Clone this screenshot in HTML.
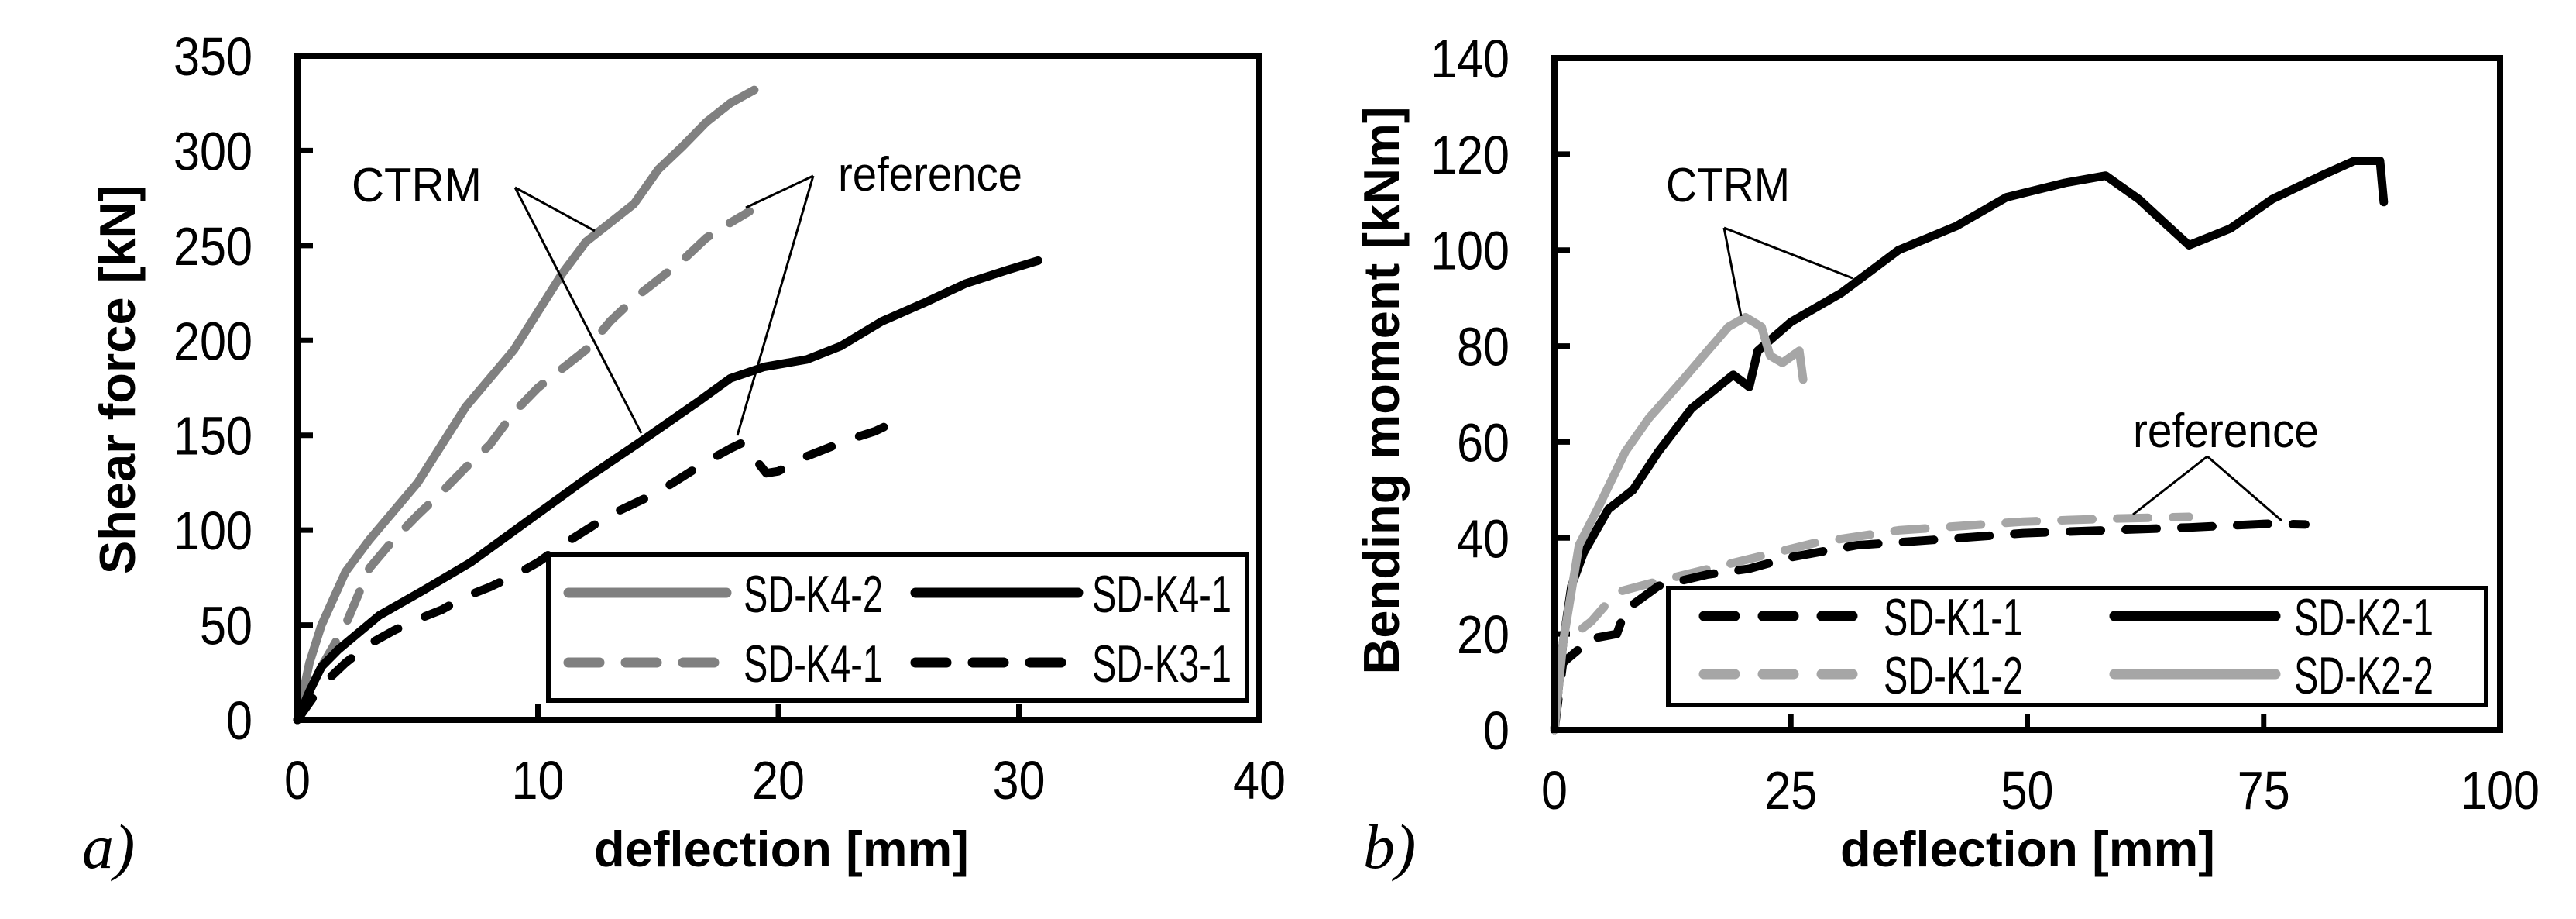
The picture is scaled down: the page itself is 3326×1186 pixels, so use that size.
<!DOCTYPE html>
<html><head><meta charset="utf-8"><style>
html,body{margin:0;padding:0;background:#fff;}
svg{display:block;}
text{font-family:"Liberation Sans",sans-serif;fill:#000;}
</style></head><body>
<svg id="fig" width="3326" height="1186" viewBox="0 0 3326 1186" xmlns="http://www.w3.org/2000/svg">
<rect width="3326" height="1186" fill="#fff"/>
<g id="chartA"></g>
<g id="chartB"></g>
</svg>
<script>
// ---------- Chart A data ----------
const aXTicks = [0, 10, 20, 30, 40];
const aYTicks = [0, 50, 100, 150, 200, 250, 300, 350];
const aK42x = [0,0.5,1,2,3,4,5,6,7,8,9,10,11,12,13,14,15,16,17,18,19];
const aK42y = [0,30,50,78,95,110,125,145,165,180,195,215,235,252,262,272,290,302,315,325,332];
const aK41rx = [0,1,2,3,4,5,6,7,8,9,10,11,12,13,14,15,16,17,18,18.8];
const aK41ry = [0,28,50,80,95,108,120,133,145,162,175,185,195,210,222,232,242,254,262,268];
const aK41x = [0,0.5,1,1.7,3.4,5.2,7.2,9.7,12.1,14.2,16.7,18,19.4,21.2,22.6,24.3,26.1,27.8,29.5,30.8];
const aK41y = [0,15,28,37,55,68,83,106,128,146,168,180,186,190,197,210,220,230,237,242];
const aK31x = [0,1,2,3,4,5,6,7,8,9,10,11,12,13,14,15,16,17,18,18.5,19.5,20,21,22,23,24,24.5];
const aK31y = [0,18,30,40,47,53,58,65,70,76,83,92,100,108,114,120,128,136,143,146,130,131,138,143,148,152,155];
// ---------- Chart B data ----------
const bXTicks = [0, 25, 50, 75, 100];
const bYTicks = [0, 20, 40, 60, 80, 100, 120, 140];
const bK21x = [0,0.9,1.8,3.1,5.7,8.3,11,14.5,18.9,20.6,21.5,25,30.3,36.4,42.5,47.8,54,58.3,61.8,64.5,67.1,71.5,75.9,81.1,84.6,87.3,87.7];
const bK21y = [0,18,30,37,46,50,58,67,74,71.5,79,85,91,100,105,111,114,115.5,110.6,105.7,101,104.5,110.6,115.5,118.6,118.6,110];
const bK22x = [0,0.9,2.6,4.8,7.5,10,13.6,16.2,18.4,20.2,21.9,22.8,24.1,25.9,26.3];
const bK22y = [0,18,38.5,47,58,65,73,79,84,86,84,78,76.5,79,73];
const bK11x = [0,0.9,3.9,6.6,7.5,11,16.2,20.6,25,32,40.8,49.6,58.3,67.1,75.9,79.4];
const bK11y = [0,14,19,20,25,30,32.4,33.6,36,38.5,39.7,41,41.6,42.2,43,42.8];
const bK12x = [0,0.9,3.9,6.6,11,18.9,27.6,36.4,49.6,58.3,67.1];
const bK12y = [0,18,22.6,28.7,31,34.8,39,41.6,43.4,44,44.4];

const NS = "http://www.w3.org/2000/svg";
function mk(parent, tag, attrs, txt){
  const e = document.createElementNS(NS, tag);
  for (const k in attrs) e.setAttribute(k, attrs[k]);
  if (txt !== undefined) e.textContent = txt;
  parent.appendChild(e);
  return e;
}

function drawChart(g, cfg){
  const sx = v => cfg.x0 + (v - cfg.xmin) / (cfg.xmax - cfg.xmin) * (cfg.x1 - cfg.x0);
  const sy = v => cfg.y0 - (v - cfg.ymin) / (cfg.ymax - cfg.ymin) * (cfg.y0 - cfg.y1);
  cfg.yTicks.forEach(t => {
    const l = mk(g, 'line', {x1: cfg.x0, x2: cfg.x0 + 20, y1: sy(t), y2: sy(t), stroke: '#000', 'stroke-width': 7});
    
    
    const s = String(t);
    const tx = mk(g, 'text', {x: cfg.x0 - 58, y: sy(t) + 25, 'text-anchor': 'end', 'font-size': 70, textLength: s.length * 34, lengthAdjust: 'spacingAndGlyphs'}, s);
    
    
  });
  cfg.xTicks.forEach(t => {
    const l = mk(g, 'line', {x1: sx(t), x2: sx(t), y1: cfg.y0, y2: cfg.y0 - 20, stroke: '#000', 'stroke-width': 7});
    
    
    const s = String(t);
    const tx = mk(g, 'text', {x: sx(t), y: cfg.y0 + 102, 'text-anchor': 'middle', 'font-size': 70, textLength: s.length * 34, lengthAdjust: 'spacingAndGlyphs'}, s);
    
    
  });
  cfg.series.forEach(s => {
    const pts = s.x.map((v, i) => sx(v).toFixed(1) + ',' + sy(s.y[i]).toFixed(1)).join(' ');
    const attrs = {points: pts, fill: 'none', stroke: s.color, 'stroke-width': s.w || 11, 'stroke-linejoin': 'round', 'stroke-linecap': 'round'};
    if (s.dash) attrs['stroke-dasharray'] = s.dash;
    const p = mk(g, 'polyline', attrs);
    
    
  });
  const fr = mk(g, 'rect', {x: cfg.x0, y: cfg.y1, width: cfg.x1 - cfg.x0, height: cfg.y0 - cfg.y1, fill: 'none', stroke: '#000', 'stroke-width': 8});
  
  
  return {sx, sy};
}

function legend(g, box, items){
  const lg = mk(g, 'g', {});
  
  
  mk(lg, 'rect', {x: box.x, y: box.y, width: box.w, height: box.h, fill: '#fff', stroke: '#000', 'stroke-width': 6});
  items.forEach(it => {
    const e = mk(lg, 'g', {});
    
    
    const a = {x1: it.lx1, x2: it.lx2, y1: it.y, y2: it.y, stroke: it.color, 'stroke-width': 13, 'stroke-linecap': 'round'};
    if (it.dash) a['stroke-dasharray'] = it.dash;
    mk(e, 'line', a);
    mk(e, 'text', {x: it.tx, y: it.y + 25, 'font-size': 68, textLength: 180, lengthAdjust: 'spacingAndGlyphs'}, it.label);
  });
}

function label(g, attrs, txt, name){
  const t = mk(g, 'text', attrs, txt);
  
  
  return t;
}
function lines(g, segs, name){
  const gg = mk(g, 'g', {});
  
  
  segs.forEach(s => mk(gg, 'line', {x1: s[0], y1: s[1], x2: s[2], y2: s[3], stroke: '#000', 'stroke-width': 3}));
}

// ---------- Chart A ----------
const gA = document.getElementById('chartA');
drawChart(gA, {
  x0: 384, x1: 1626, y0: 929, y1: 72, xmin: 0, xmax: 40, ymin: 0, ymax: 350,
  xTicks: aXTicks, yTicks: aYTicks,
  series: [
    {name: 'series-sd-k4-2', x: aK42x, y: aK42y, color: '#808080'},
    {name: 'series-sd-k4-1-reference', x: aK41rx, y: aK41ry, color: '#808080', dash: '40 32'},
    {name: 'series-sd-k3-1', x: aK31x, y: aK31y, color: '#000', dash: '34 38'},
    {name: 'series-sd-k4-1', x: aK41x, y: aK41y, color: '#000'}
  ]
});
legend(gA, {x: 708, y: 716, w: 902, h: 188}, [
  {lx1: 734, lx2: 938, y: 765, color: '#808080', tx: 960, label: 'SD-K4-2'},
  {lx1: 1182, lx2: 1392, y: 765, color: '#000', tx: 1410, label: 'SD-K4-1'},
  {lx1: 734, lx2: 938, y: 855, color: '#808080', dash: '40 34', tx: 960, label: 'SD-K4-1'},
  {lx1: 1182, lx2: 1392, y: 855, color: '#000', dash: '40 34', tx: 1410, label: 'SD-K3-1'}
]);
label(gA, {x: 454, y: 260, 'font-size': 62, textLength: 168, lengthAdjust: 'spacingAndGlyphs'}, 'CTRM', 'ctrm-annotation');
label(gA, {x: 1082, y: 246, 'font-size': 62, textLength: 238, lengthAdjust: 'spacingAndGlyphs'}, 'reference', 'reference-annotation');
lines(gA, [[665,242,768,298],[665,242,828,559]], 'ctrm-leader-lines');
lines(gA, [[1050,227,963,268],[1050,227,952,562]], 'reference-leader-lines');
label(gA, {x: 151, y: 490, 'font-size': 65, 'font-weight': 'bold', 'text-anchor': 'middle', transform: 'rotate(-90 151 490) translate(0 23)'}, 'Shear force [kN]', 'y-axis-title');
label(gA, {x: 1009, y: 1118, 'font-size': 65, 'font-weight': 'bold', 'text-anchor': 'middle'}, 'deflection [mm]', 'x-axis-title');
label(gA, {x: 106, y: 1120, 'font-size': 82, 'font-style': 'italic', style: 'font-family:"Liberation Serif",serif'}, 'a)', 'panel-label-a');

// ---------- Chart B ----------
const gB = document.getElementById('chartB');
drawChart(gB, {
  x0: 2007, x1: 3228, y0: 942, y1: 75, xmin: 0, xmax: 100, ymin: 0, ymax: 140,
  xTicks: bXTicks, yTicks: bYTicks,
  series: [
    {name: 'series-sd-k1-2', x: bK12x, y: bK12y, color: '#a6a6a6', dash: '40 32'},
    {name: 'series-sd-k1-1', x: bK11x, y: bK11y, color: '#000', dash: '40 32'},
    {name: 'series-sd-k2-1', x: bK21x, y: bK21y, color: '#000'},
    {name: 'series-sd-k2-2', x: bK22x, y: bK22y, color: '#a6a6a6'}
  ]
});
legend(gB, {x: 2154, y: 759, w: 1056, h: 151}, [
  {lx1: 2200, lx2: 2410, y: 795, color: '#000', dash: '40 36', tx: 2432, label: 'SD-K1-1'},
  {lx1: 2730, lx2: 2938, y: 795, color: '#000', tx: 2962, label: 'SD-K2-1'},
  {lx1: 2200, lx2: 2410, y: 870, color: '#a6a6a6', dash: '40 36', tx: 2432, label: 'SD-K1-2'},
  {lx1: 2730, lx2: 2938, y: 870, color: '#a6a6a6', tx: 2962, label: 'SD-K2-2'}
]);
label(gB, {x: 2151, y: 260, 'font-size': 62, textLength: 160, lengthAdjust: 'spacingAndGlyphs'}, 'CTRM', 'ctrm-annotation');
label(gB, {x: 2754, y: 577, 'font-size': 62, textLength: 240, lengthAdjust: 'spacingAndGlyphs'}, 'reference', 'reference-annotation');
lines(gB, [[2226,294,2248,408],[2226,294,2392,359]], 'ctrm-leader-lines');
lines(gB, [[2850,589,2754,664],[2850,589,2946,672]], 'reference-leader-lines');
label(gB, {x: 1783, y: 504, 'font-size': 65, 'font-weight': 'bold', 'text-anchor': 'middle', transform: 'rotate(-90 1783 504) translate(0 23)'}, 'Bending moment [kNm]', 'y-axis-title');
label(gB, {x: 2618, y: 1118, 'font-size': 65, 'font-weight': 'bold', 'text-anchor': 'middle'}, 'deflection [mm]', 'x-axis-title');
label(gB, {x: 1760, y: 1120, 'font-size': 82, 'font-style': 'italic', style: 'font-family:"Liberation Serif",serif'}, 'b)', 'panel-label-b');
</script>
</body></html>
